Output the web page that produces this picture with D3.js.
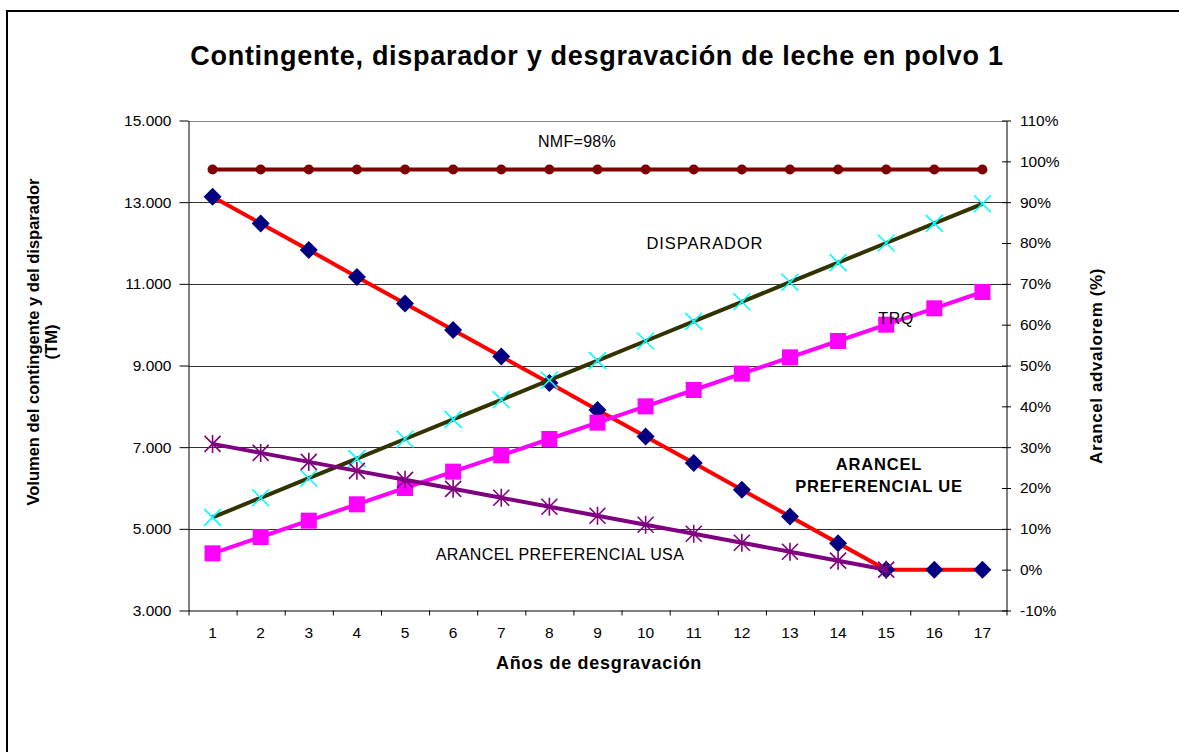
<!DOCTYPE html>
<html>
<head>
<meta charset="utf-8">
<script src="https://cdn.jsdelivr.net/npm/d3@7"></script>
<style>
  body { margin: 0; background: #fff; }
  text { font-family: "Liberation Sans", Arial, sans-serif; fill: #000; }
</style>
</head>
<body>
<div id="chart"></div>
<script>
// data
var years = [1, 2, 3, 4, 5, 6, 7, 8, 9, 10, 11, 12, 13, 14, 15, 16, 17];
var trq = [4400, 4800, 5200, 5600, 6000, 6400, 6800, 7200, 7600, 8000, 8400, 8800, 9200, 9600, 10000, 10400, 10800];
var disparador = [5280, 5760, 6240, 6720, 7200, 7680, 8160, 8640, 9120, 9600, 10080, 10560, 11040, 11520, 12000, 12480, 12960];
var nmf = [98, 98, 98, 98, 98, 98, 98, 98, 98, 98, 98, 98, 98, 98, 98, 98, 98];
var arancelUE = [91.3, 84.8, 78.3, 71.7, 65.2, 58.7, 52.2, 45.7, 39.1, 32.6, 26.1, 19.6, 13.0, 6.5, 0, 0, 0];
var arancelUSA = [30.8, 28.6, 26.4, 24.2, 22.0, 19.8, 17.6, 15.4, 13.2, 11.0, 8.8, 6.6, 4.4, 2.2, 0];
var leftTicks = [3000, 5000, 7000, 9000, 11000, 13000, 15000];
var rightTicks = [-10, 0, 10, 20, 30, 40, 50, 60, 70, 80, 90, 100, 110];

var w = 1179;
var h = 752;
var x0 = 188.5, x1 = 1006.5, y0 = 120.5, y1 = 610.5;

var svg = d3
  .select("#chart")
  .append("svg")
  .attr("width", w)
  .attr("height", h);

// outer frame (right and bottom edges fall off the picture)
svg.append("rect")
  .attr("x", 7).attr("y", 11)
  .attr("width", 1220).attr("height", 800)
  .attr("fill", "none").attr("stroke", "#000").attr("stroke-width", 2);

var x = d3.scaleBand().domain(years).range([x0, x1]);
var xEdge = d3.scaleLinear().domain([0.5, 17.5]).range([x0, x1]);
var yL = d3.scaleLinear().domain([3000, 15000]).range([y1, y0]);
var yR = d3.scaleLinear().domain([-10, 110]).range([y1, y0]);
var cx = (d) => x(d) + x.bandwidth() / 2;

var es = d3.formatLocale({ decimal: ",", thousands: ".", grouping: [3], currency: ["", ""] });
var fmtL = es.format(",d");

// gridlines
svg.append("g")
  .selectAll("line")
  .data(leftTicks.slice(1))
  .enter()
  .append("line")
  .attr("x1", x0).attr("x2", x1)
  .attr("y1", (d) => Math.round(yL(d)) + 0.5)
  .attr("y2", (d) => Math.round(yL(d)) + 0.5)
  .attr("stroke", (d) => (d == 15000 ? "#888" : "#333"))
  .attr("stroke-width", 1.2);

// left axis
var axL = svg.append("g")
  .attr("transform", "translate(" + x0 + ",0)")
  .call(d3.axisLeft(yL).tickValues(leftTicks).tickFormat(fmtL).tickSize(9).tickSizeOuter(0).tickPadding(8));
axL.selectAll("text").style("font-size", "15.5px").style("font-family", "Liberation Sans, Arial");

// right axis
var axR = svg.append("g")
  .attr("transform", "translate(" + x1 + ",0)")
  .call(d3.axisRight(yR).tickValues(rightTicks).tickFormat((d) => d + "%").tickSize(4.5).tickSizeOuter(0).tickPadding(9));
axR.selectAll(".tick line").attr("x1", -4.5);
axR.selectAll("text").style("font-size", "15.5px").style("font-family", "Liberation Sans, Arial");

// bottom axis
var axB = svg.append("g")
  .attr("transform", "translate(0," + y1 + ")")
  .call(d3.axisBottom(xEdge).tickValues(d3.range(0.5, 18, 1)).tickFormat("").tickSize(5).tickSizeOuter(0));
svg.append("g")
  .selectAll("text")
  .data(years)
  .enter()
  .append("text")
  .attr("x", cx)
  .attr("y", 638)
  .attr("text-anchor", "middle")
  .style("font-size", "15.5px")
  .text((d) => d);

[axL, axR, axB].forEach((a) => {
  a.selectAll("path, line").attr("stroke", "#000");
});

// series
var line = (ys, arr) =>
  d3.line().x((d, i) => cx(years[i])).y((d) => ys(d))(arr);

function drawLine(ys, arr, color, width) {
  svg.append("path")
    .attr("d", line(ys, arr))
    .attr("fill", "none")
    .attr("stroke", color)
    .attr("stroke-width", width)
    .attr("stroke-linejoin", "round");
}

// NMF
drawLine(yR, nmf, "#800000", 4);
svg.append("g").selectAll("circle").data(nmf).enter().append("circle")
  .attr("cx", (d, i) => cx(years[i])).attr("cy", (d) => yR(d))
  .attr("r", 5).attr("fill", "#800000");

// arancel UE
drawLine(yR, arancelUE, "#ff0000", 4);
svg.append("g").selectAll("path").data(arancelUE).enter().append("path")
  .attr("transform", (d, i) => "translate(" + cx(years[i]) + "," + yR(d) + ")")
  .attr("d", "M0,-9L9,0L0,9L-9,0Z")
  .attr("fill", "#000080");

// disparador
drawLine(yL, disparador, "#333300", 4);
svg.append("g").selectAll("path").data(disparador).enter().append("path")
  .attr("transform", (d, i) => "translate(" + cx(years[i]) + "," + yL(d) + ")")
  .attr("d", "M-8.5,-8.5L8.5,8.5M-8.5,8.5L8.5,-8.5")
  .attr("stroke", "#00ffff").attr("stroke-width", 1.6).attr("fill", "none");

// TRQ
drawLine(yL, trq, "#ff00ff", 4);
svg.append("g").selectAll("rect").data(trq).enter().append("rect")
  .attr("x", (d, i) => cx(years[i]) - 8).attr("y", (d) => yL(d) - 8)
  .attr("width", 16).attr("height", 16)
  .attr("fill", "#ff00ff");

// arancel USA
drawLine(yR, arancelUSA, "#800080", 4);
svg.append("g").selectAll("path").data(arancelUSA).enter().append("path")
  .attr("transform", (d, i) => "translate(" + cx(years[i]) + "," + yR(d) + ")")
  .attr("d", "M-8,-8L8,8M-8,8L8,-8M0,-9L0,9")
  .attr("stroke", "#800080").attr("stroke-width", 1.6).attr("fill", "none");

// labels
function label(txt, lx, ly, size, bold, sp) {
  return svg.append("text")
    .attr("x", lx).attr("y", ly)
    .attr("text-anchor", "middle")
    .style("font-size", size + "px")
    .style("font-weight", bold ? "bold" : "normal")
    .style("letter-spacing", (sp || 0) + "px")
    .text(txt);
}
label("Contingente, disparador y desgravación de leche en polvo 1", 597, 65, 27, true, 0.7);
label("NMF=98%", 577, 147, 16, false, 0.3);
label("DISPARADOR", 705, 249, 16.5, false, 0.9);
label("TRQ", 896, 324, 16, false, 0.5);
label("ARANCEL", 879, 470, 16.5, true, 0.8);
label("PREFERENCIAL UE", 879, 492, 16.5, true, 0.8);
label("ARANCEL PREFERENCIAL USA", 560, 560, 16, false, 0.4);
label("Años de desgravación", 599, 669, 18, true, 0.7);

svg.append("text")
  .attr("transform", "translate(39,342) rotate(-90)")
  .attr("text-anchor", "middle")
  .style("font-size", "16.5px").style("font-weight", "bold")
  .text("Volumen del contingente y del disparador");
svg.append("text")
  .attr("transform", "translate(57,342) rotate(-90)")
  .attr("text-anchor", "middle")
  .style("font-size", "16.5px").style("font-weight", "bold")
  .text("(TM)");
svg.append("text")
  .attr("transform", "translate(1102,366) rotate(-90)")
  .attr("text-anchor", "middle")
  .style("font-size", "17px").style("font-weight", "bold")
  .style("letter-spacing", "0.6px")
  .text("Arancel advalorem (%)");
</script>
</body>
</html>
